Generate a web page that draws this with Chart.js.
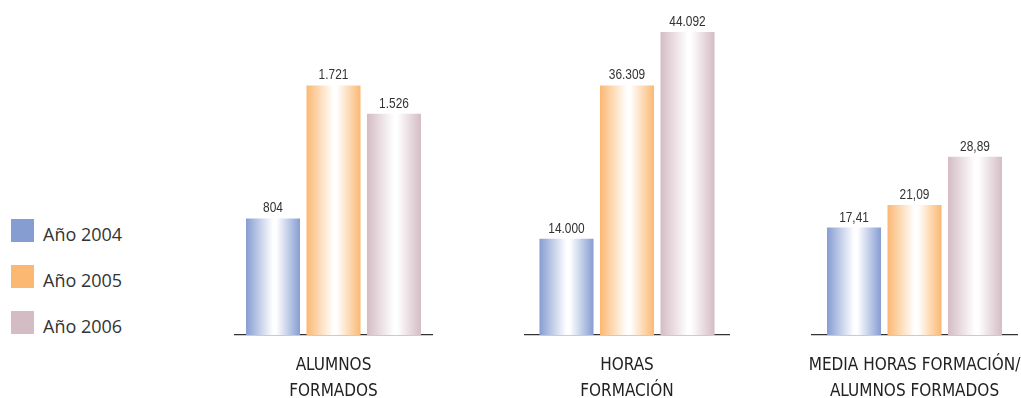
<!DOCTYPE html>
<html lang="es">
<head>
<meta charset="utf-8">
<title>Formación 2004-2006</title>
<script src="https://cdn.jsdelivr.net/npm/chart.js@4"></script>
<style>
  html, body { margin: 0; padding: 0; background: #fff; }
  body { position: relative; width: 1021px; height: 398px; overflow: hidden; }
  canvas { position: absolute; top: 0; }
  #legend { position: absolute; left: 0; top: 0; font-family: 'Open Sans', sans-serif; font-size: 18px; color: #333; }
  .item { position: absolute; left: 11px; height: 23px; white-space: nowrap; }
  .item .box { position: absolute; left: 0; top: 0; width: 23px; height: 23px; }
  .item .txt { position: absolute; left: 32px; top: 4px; line-height: 23px; }
</style>
</head>
<body>
<div id="legend"></div>
<canvas id="chartAlumnos" width="287" height="398" style="left:190px"></canvas>
<canvas id="chartHoras" width="294" height="398" style="left:480px"></canvas>
<canvas id="chartMedia" width="295" height="398" style="left:767px"></canvas>

<script>
// Series y categorías
const years = ['Año 2004', 'Año 2005', 'Año 2006'];
const yearColors = ['#869dd2', '#fbb872', '#d4bcc5'];

const catAlumnos = ['ALUMNOS', 'FORMADOS'];
const catHoras = ['HORAS', 'FORMACIÓN'];
const catMedia = ['MEDIA HORAS FORMACIÓN/', 'ALUMNOS FORMADOS'];

const alumnosFormados = [804, 1721, 1526];
const horasFormacion = [14000, 36309, 44092];
const mediaHoras = [17.41, 21.09, 28.89];

// 1.721 / 17,41
function formatEs(v, dec) {
  const parts = v.toFixed(dec).split('.');
  const ent = parts[0].replace(/\B(?=(\d{3})+(?!\d))/g, '.');
  return parts[1] ? ent + ',' + parts[1] : ent;
}

// relleno con brillo vertical en el centro de cada barra
function barFill(ctx) {
  const base = yearColors[ctx.datasetIndex];
  const el = ctx.element;
  if (!el || !el.width) return base;
  const left = el.x - el.width / 2;
  const g = ctx.chart.ctx.createLinearGradient(left, 0, left + el.width, 0);
  g.addColorStop(0, base);
  g.addColorStop(0.5, '#ffffff');
  g.addColorStop(0.56, '#ffffff');
  g.addColorStop(1, base);
  return g;
}

// etiquetas de valor encima de cada barra (letra estrechada)
const valueLabels = {
  id: 'valueLabels',
  afterDatasetsDraw(chart, args, opts) {
    const c = chart.ctx;
    chart.data.datasets.forEach((ds, i) => {
      chart.getDatasetMeta(i).data.forEach((el, j) => {
        c.save();
        c.font = "14.5px 'Liberation Sans', Arial, sans-serif";
        c.fillStyle = '#333';
        c.textAlign = 'center';
        c.textBaseline = 'alphabetic';
        c.translate(el.x, el.y - 6);
        c.scale(0.82, 1);
        c.fillText(formatEs(ds.data[j], opts.decimals || 0), 0, 0);
        c.restore();
      });
    });
  }
};

function makeChart(id, category, values, max, catPct, decimals) {
  const chart = new Chart(document.getElementById(id), {
    type: 'bar',
    data: {
      labels: [category],
      datasets: years.map((y, i) => ({
        label: y,
        data: [values[i]],
        backgroundColor: barFill,
        borderWidth: 0
      }))
    },
    options: {
      responsive: false,
      animation: false,
      events: [],
      // margen lateral amplio para que el rótulo largo no encoja el área
      layout: { padding: { left: 45, right: 45, top: 0, bottom: 0 } },
      datasets: { bar: { categoryPercentage: catPct, barPercentage: 0.893 } },
      plugins: {
        legend: { display: false },
        tooltip: { enabled: false },
        valueLabels: { decimals: decimals }
      },
      scales: {
        x: {
          grid: { display: false, drawTicks: false },
          border: { display: true, color: '#333', width: 1.3 },
          ticks: {
            color: '#222',
            padding: 18,
            maxRotation: 0,
            autoSkip: false,
            font: { family: "'DejaVu Sans Condensed', sans-serif", size: 17, lineHeight: 1.53 }
          },
          afterFit(scale) { scale.height = 63; }
        },
        y: { display: false, min: 0, max: max }
      }
    },
    plugins: [valueLabels]
  });
  chart.update('none');
  return chart;
}

makeChart('chartAlumnos', catAlumnos, alumnosFormados, 2310, 0.921, 0);
makeChart('chartHoras', catHoras, horasFormacion, 48750, 0.89, 0);
makeChart('chartMedia', catMedia, mediaHoras, 54.3, 0.885, 2);

// leyenda
const legend = document.getElementById('legend');
years.forEach((y, i) => {
  const item = document.createElement('div');
  item.className = 'item';
  item.style.top = (219 + i * 46) + 'px';
  item.innerHTML = '<div class="box" style="background:' + yearColors[i] + '"></div><span class="txt">' + y + '</span>';
  legend.appendChild(item);
});
</script>
</body>
</html>
